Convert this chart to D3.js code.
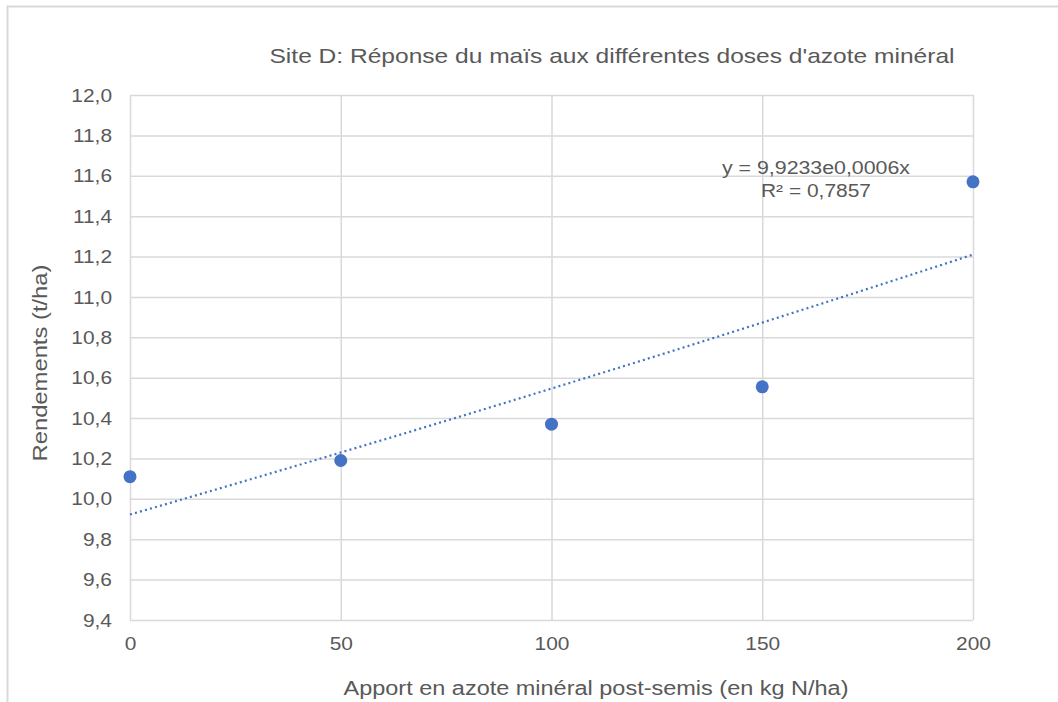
<!DOCTYPE html>
<html>
<head>
<meta charset="utf-8">
<script src="https://cdn.jsdelivr.net/npm/d3@7"></script>
<style>
  body { margin: 0; background: #fff; }
  svg text { font-family: "Liberation Sans", Arial, sans-serif; fill: #595959; }
</style>
</head>
<body>
<div id="chart"></div>
<script>
// data
var doses = [0, 50, 100, 150, 200];
var rendements = [10.11, 10.19, 10.37, 10.555, 11.57];
var yTicks = [9.4, 9.6, 9.8, 10.0, 10.2, 10.4, 10.6, 10.8, 11.0, 11.2, 11.4, 11.6, 11.8, 12.0];
var xTicks = [0, 50, 100, 150, 200];
var titre = "Site D: Réponse du maïs aux différentes doses d'azote minéral";
var titreX = "Apport en azote minéral post-semis (en kg N/ha)";
var titreY = "Rendements (t/ha)";
var equation = ["y = 9,9233e0,0006x", "R² = 0,7857"];

var W = 1058, H = 702;
var margin = {top: 95, right: 85, bottom: 82, left: 130},
    width = W - margin.left - margin.right,
    height = H - margin.top - margin.bottom;

var svg = d3.select("#chart").append("svg")
    .attr("width", W)
    .attr("height", H);

// outer chart frame
svg.append("rect")
    .attr("x", 7.5).attr("y", 6.5)
    .attr("width", W + 20).attr("height", H + 20)
    .attr("fill", "none")
    .attr("stroke", "#d9d9d9")
    .attr("stroke-width", 2);

var g = svg.append("g")
    .attr("transform", "translate(" + margin.left + "," + margin.top + ")");

var x = d3.scaleLinear().domain([0, 200]).range([0, width]);
var y = d3.scaleLinear().domain([9.4, 12.0]).range([height, 0]);

var fmt = function(d) { return d3.format(".1f")(d).replace(".", ","); };

// horizontal gridlines + y labels
g.append("g")
    .attr("class", "y axis")
    .call(d3.axisLeft(y).tickValues(yTicks).tickSize(-width).tickFormat(fmt).tickPadding(18))
    .call(function(s) {
      s.select(".domain").remove();
      s.selectAll("line").attr("stroke", "#d9d9d9").attr("stroke-width", 1.5);
      s.selectAll("text").attr("font-size", 19).style("fill", "#595959")
        .attr("textLength", function() { return this.getComputedTextLength() * 1.1; })
        .attr("lengthAdjust", "spacingAndGlyphs");
    });

// vertical gridlines + x labels
g.append("g")
    .attr("class", "x axis")
    .attr("transform", "translate(0," + height + ")")
    .call(d3.axisBottom(x).tickValues(xTicks).tickSize(-height).tickFormat(d3.format("d")).tickPadding(17))
    .call(function(s) {
      s.select(".domain").remove();
      s.selectAll("line").attr("stroke", "#d9d9d9").attr("stroke-width", 1.5);
      s.selectAll("text").attr("font-size", 19).style("fill", "#595959")
        .attr("textLength", function() { return this.getComputedTextLength() * 1.1; })
        .attr("lengthAdjust", "spacingAndGlyphs");
    });

// exponential trendline fitted on the points (least squares on ln y)
var mx = d3.mean(doses);
var ly = rendements.map(function(v) { return Math.log(v); });
var mly = d3.mean(ly);
var b = d3.sum(doses, function(d, i) { return (d - mx) * (ly[i] - mly); }) /
        d3.sum(doses, function(d) { return (d - mx) * (d - mx); });
var a = Math.exp(mly - b * mx);
var trend = d3.range(0, 201, 5).map(function(d) { return [d, a * Math.exp(b * d)]; });

g.append("path")
    .datum(trend)
    .attr("fill", "none")
    .attr("stroke", "#4472c4")
    .attr("stroke-width", 2.2)
    .attr("stroke-dasharray", "2,3.2")
    .attr("d", d3.line()
      .x(function(d) { return x(d[0]); })
      .y(function(d) { return y(d[1]); }));

g.selectAll(".dot")
    .data(doses)
    .enter()
    .append("circle")
    .attr("class", "dot")
    .attr("r", 6.5)
    .attr("cx", function(d) { return x(d); })
    .attr("cy", function(d, i) { return y(rendements[i]); })
    .style("fill", "#4472c4");

// equation label
var eqWidths = [188, 110];
g.selectAll(".eq")
    .data(equation)
    .enter()
    .append("text")
    .attr("class", "eq")
    .attr("x", 816 - margin.left)
    .attr("y", function(d, i) { return 79 + i * 23; })
    .attr("text-anchor", "middle")
    .attr("font-size", 18)
    .attr("textLength", function(d, i) { return eqWidths[i]; })
    .attr("lengthAdjust", "spacingAndGlyphs")
    .text(function(d) { return d; });

// titles
svg.append("text")
    .attr("x", 612)
    .attr("y", 63)
    .attr("text-anchor", "middle")
    .attr("font-size", 21)
    .attr("textLength", 685)
    .attr("lengthAdjust", "spacingAndGlyphs")
    .text(titre);

svg.append("text")
    .attr("x", 596)
    .attr("y", 695)
    .attr("text-anchor", "middle")
    .attr("font-size", 20)
    .attr("textLength", 505)
    .attr("lengthAdjust", "spacingAndGlyphs")
    .text(titreX);

svg.append("text")
    .attr("transform", "translate(47,363) rotate(-90)")
    .attr("text-anchor", "middle")
    .attr("font-size", 20)
    .attr("textLength", 197)
    .attr("lengthAdjust", "spacingAndGlyphs")
    .text(titreY);
</script>
</body>
</html>
